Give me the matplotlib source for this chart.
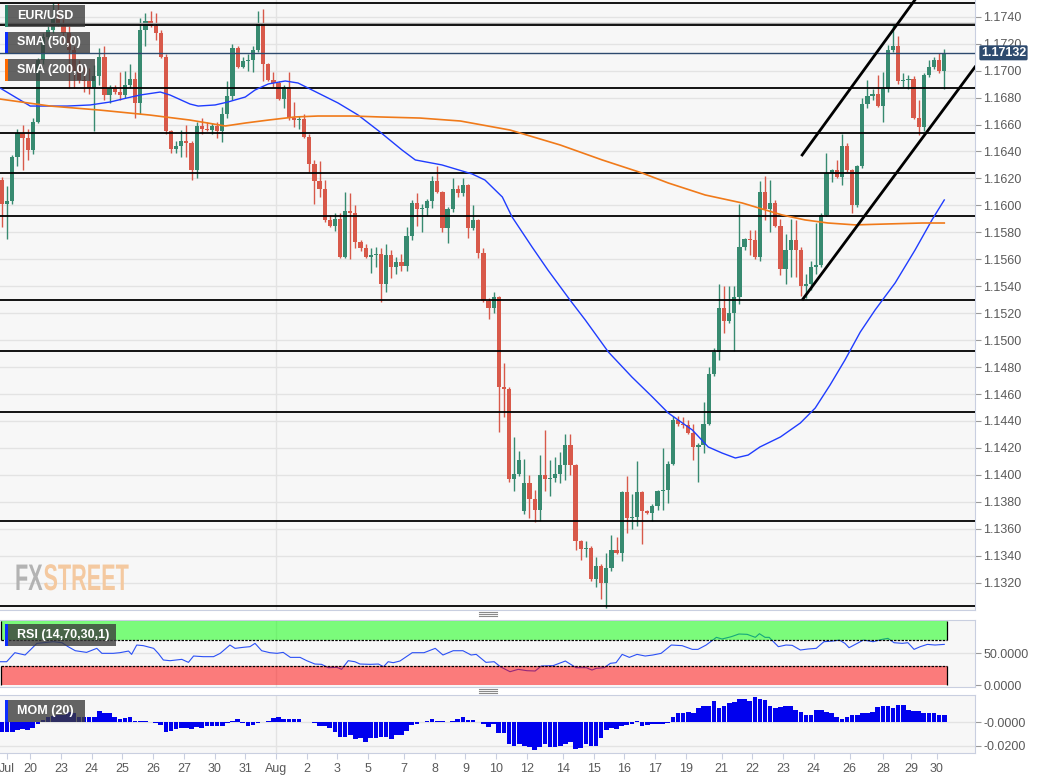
import matplotlib
matplotlib.use("Agg")
import matplotlib.pyplot as plt
import matplotlib.transforms as mtransforms
from matplotlib.patches import Rectangle, PathPatch
from matplotlib.lines import Line2D
from matplotlib.textpath import TextPath
from matplotlib.font_manager import FontProperties
from matplotlib.ticker import FormatStrFormatter
import numpy as np

plt.rcParams['font.family'] = ['Liberation Sans', 'DejaVu Sans']

# EUR/USD 4h candles
opens = [1.1619, 1.1601, 1.1603, 1.1636, 1.1654, 1.1650, 1.1641, 1.1662, 1.1708, 1.1725,
         1.1730, 1.1738, 1.1734, 1.1728, 1.1715, 1.1700, 1.1693, 1.1692, 1.1687, 1.1696,
         1.1710, 1.1682, 1.1687, 1.1684, 1.1682, 1.1689, 1.1694, 1.1676, 1.1730, 1.1737,
         1.1733, 1.1728, 1.1710, 1.1655, 1.1642, 1.1644, 1.1648, 1.1646, 1.1626, 1.1659,
         1.1657, 1.1656, 1.1659, 1.1655, 1.1668, 1.1681, 1.1717, 1.1703, 1.1707, 1.1708,
         1.1715, 1.1735, 1.1705, 1.1693, 1.1691, 1.1679, 1.1688, 1.1665, 1.1663, 1.1664,
         1.1651, 1.1631, 1.1618, 1.1612, 1.1589, 1.1585, 1.1590, 1.1562, 1.1596, 1.1594,
         1.1573, 1.1568, 1.1562, 1.1563, 1.1564, 1.1542, 1.1563, 1.1554, 1.1558, 1.1555,
         1.1577, 1.1602, 1.1597, 1.1598, 1.1603, 1.1618, 1.1610, 1.1583, 1.1597, 1.1612,
         1.1609, 1.1615, 1.1583, 1.1589, 1.1565, 1.1529, 1.1524, 1.1532, 1.1465, 1.1464,
         1.1397, 1.1401, 1.1373, 1.1394, 1.1382, 1.1374, 1.1400, 1.1397, 1.1398, 1.1401,
         1.1407, 1.1422, 1.1407, 1.1351, 1.1345, 1.1346, 1.1323, 1.1332, 1.1320, 1.1331,
         1.1344, 1.1342, 1.1387, 1.1368, 1.1369, 1.1387, 1.1373, 1.1372, 1.1377, 1.1388,
         1.1389, 1.1408, 1.1441, 1.1438, 1.1437, 1.1431, 1.1421, 1.1422, 1.1438, 1.1475,
         1.1491, 1.1524, 1.1514, 1.1520, 1.1532, 1.1569, 1.1575, 1.1574, 1.1562, 1.1610,
         1.1597, 1.1602, 1.1585, 1.1553, 1.1567, 1.1574, 1.1567, 1.1540, 1.1542, 1.1554,
         1.1556, 1.1593, 1.1624, 1.1626, 1.1621, 1.1644, 1.1626, 1.1600, 1.1629, 1.1675,
         1.1681, 1.1683, 1.1674, 1.1686, 1.1715, 1.1718, 1.1692, 1.1693, 1.1694, 1.1665,
         1.1658, 1.1697, 1.1703, 1.1708, 1.1700]
highs = [1.1621, 1.1614, 1.1637, 1.1657, 1.1660, 1.1657, 1.1665, 1.1709, 1.1728, 1.1733,
         1.1750, 1.1750, 1.1738, 1.1733, 1.1718, 1.1708, 1.1703, 1.1702, 1.1704, 1.1717,
         1.1718, 1.1689, 1.1689, 1.1699, 1.1700, 1.1705, 1.1699, 1.1739, 1.1743, 1.1744,
         1.1743, 1.1730, 1.1712, 1.1656, 1.1648, 1.1656, 1.1660, 1.1648, 1.1662, 1.1665,
         1.1662, 1.1661, 1.1662, 1.1673, 1.1692, 1.1720, 1.1718, 1.1710, 1.1712, 1.1718,
         1.1744, 1.1746, 1.1706, 1.1699, 1.1692, 1.1689, 1.1699, 1.1677, 1.1666, 1.1668,
         1.1653, 1.1634, 1.1633, 1.1619, 1.1593, 1.1594, 1.1594, 1.1610, 1.1609, 1.1600,
         1.1574, 1.1571, 1.1568, 1.1569, 1.1568, 1.1571, 1.1567, 1.1562, 1.1564, 1.1584,
         1.1604, 1.1609, 1.1601, 1.1605, 1.1622, 1.1629, 1.1611, 1.1599, 1.1620, 1.1615,
         1.1620, 1.1616, 1.1600, 1.1590, 1.1568, 1.1531, 1.1536, 1.1533, 1.1483, 1.1465,
         1.1428, 1.1418, 1.1412, 1.1400, 1.1389, 1.1415, 1.1433, 1.1411, 1.1413, 1.1417,
         1.1430, 1.1430, 1.1408, 1.1352, 1.1351, 1.1347, 1.1339, 1.1334, 1.1342, 1.1355,
         1.1354, 1.1388, 1.1399, 1.1386, 1.1410, 1.1388, 1.1374, 1.1378, 1.1389, 1.1420,
         1.1410, 1.1444, 1.1444, 1.1443, 1.1441, 1.1438, 1.1424, 1.1454, 1.1480, 1.1494,
         1.1542, 1.1540, 1.1540, 1.1540, 1.1601, 1.1576, 1.1582, 1.1582, 1.1618, 1.1622,
         1.1619, 1.1604, 1.1590, 1.1579, 1.1590, 1.1589, 1.1569, 1.1549, 1.1559, 1.1587,
         1.1594, 1.1639, 1.1627, 1.1634, 1.1653, 1.1646, 1.1627, 1.1630, 1.1680, 1.1693,
         1.1686, 1.1697, 1.1699, 1.1719, 1.1734, 1.1726, 1.1698, 1.1697, 1.1696, 1.1678,
         1.1698, 1.1708, 1.1710, 1.1713, 1.1716]
lows = [1.1584, 1.1575, 1.1601, 1.1629, 1.1626, 1.1634, 1.1638, 1.1661, 1.1705, 1.1723,
        1.1728, 1.1733, 1.1720, 1.1687, 1.1687, 1.1691, 1.1684, 1.1683, 1.1655, 1.1689,
        1.1678, 1.1676, 1.1683, 1.1678, 1.1680, 1.1687, 1.1665, 1.1668, 1.1718, 1.1732,
        1.1723, 1.1709, 1.1653, 1.1639, 1.1639, 1.1636, 1.1636, 1.1619, 1.1620, 1.1653,
        1.1655, 1.1653, 1.1650, 1.1647, 1.1665, 1.1678, 1.1702, 1.1702, 1.1700, 1.1699,
        1.1714, 1.1692, 1.1692, 1.1688, 1.1678, 1.1672, 1.1663, 1.1658, 1.1657, 1.1650,
        1.1625, 1.1601, 1.1606, 1.1588, 1.1584, 1.1581, 1.1561, 1.1561, 1.1560, 1.1568,
        1.1566, 1.1561, 1.1550, 1.1554, 1.1528, 1.1536, 1.1546, 1.1549, 1.1551, 1.1551,
        1.1574, 1.1585, 1.1580, 1.1592, 1.1598, 1.1609, 1.1580, 1.1572, 1.1595, 1.1606,
        1.1607, 1.1576, 1.1582, 1.1561, 1.1528, 1.1516, 1.1520, 1.1432, 1.1443, 1.1395,
        1.1388, 1.1399, 1.1371, 1.1368, 1.1365, 1.1366, 1.1388, 1.1384, 1.1395, 1.1394,
        1.1396, 1.1400, 1.1344, 1.1337, 1.1339, 1.1321, 1.1317, 1.1308, 1.1301, 1.1329,
        1.1341, 1.1336, 1.1357, 1.1360, 1.1362, 1.1349, 1.1371, 1.1366, 1.1374, 1.1374,
        1.1379, 1.1407, 1.1436, 1.1435, 1.1430, 1.1411, 1.1395, 1.1416, 1.1437, 1.1473,
        1.1485, 1.1505, 1.1513, 1.1492, 1.1527, 1.1567, 1.1563, 1.1560, 1.1559, 1.1589,
        1.1580, 1.1584, 1.1548, 1.1542, 1.1547, 1.1547, 1.1533, 1.1531, 1.1537, 1.1549,
        1.1554, 1.1592, 1.1617, 1.1620, 1.1615, 1.1625, 1.1594, 1.1599, 1.1628, 1.1672,
        1.1678, 1.1673, 1.1662, 1.1684, 1.1714, 1.1690, 1.1688, 1.1686, 1.1664, 1.1652,
        1.1655, 1.1695, 1.1701, 1.1698, 1.1686]
closes = [1.1601, 1.1603, 1.1636, 1.1654, 1.1650, 1.1641, 1.1662, 1.1708, 1.1725, 1.1730,
          1.1738, 1.1734, 1.1728, 1.1715, 1.1700, 1.1693, 1.1692, 1.1687, 1.1696, 1.1710,
          1.1682, 1.1687, 1.1684, 1.1682, 1.1689, 1.1694, 1.1676, 1.1730, 1.1737, 1.1733,
          1.1728, 1.1710, 1.1655, 1.1642, 1.1644, 1.1648, 1.1646, 1.1626, 1.1659, 1.1657,
          1.1656, 1.1659, 1.1655, 1.1668, 1.1681, 1.1717, 1.1703, 1.1707, 1.1708, 1.1715,
          1.1735, 1.1705, 1.1693, 1.1691, 1.1679, 1.1688, 1.1665, 1.1663, 1.1664, 1.1651,
          1.1631, 1.1618, 1.1612, 1.1589, 1.1585, 1.1590, 1.1562, 1.1596, 1.1594, 1.1573,
          1.1568, 1.1562, 1.1563, 1.1564, 1.1542, 1.1563, 1.1554, 1.1558, 1.1555, 1.1577,
          1.1602, 1.1597, 1.1598, 1.1603, 1.1618, 1.1610, 1.1583, 1.1597, 1.1612, 1.1609,
          1.1615, 1.1583, 1.1589, 1.1565, 1.1529, 1.1524, 1.1532, 1.1465, 1.1464, 1.1397,
          1.1401, 1.1411, 1.1394, 1.1382, 1.1374, 1.1400, 1.1397, 1.1398, 1.1401, 1.1407,
          1.1422, 1.1407, 1.1351, 1.1345, 1.1346, 1.1323, 1.1332, 1.1320, 1.1331, 1.1344,
          1.1342, 1.1387, 1.1368, 1.1369, 1.1387, 1.1373, 1.1372, 1.1377, 1.1388, 1.1389,
          1.1408, 1.1441, 1.1438, 1.1437, 1.1431, 1.1421, 1.1422, 1.1438, 1.1475, 1.1491,
          1.1524, 1.1514, 1.1520, 1.1532, 1.1569, 1.1575, 1.1574, 1.1562, 1.1610, 1.1597,
          1.1602, 1.1585, 1.1553, 1.1567, 1.1574, 1.1567, 1.1540, 1.1542, 1.1554, 1.1556,
          1.1593, 1.1624, 1.1626, 1.1621, 1.1644, 1.1626, 1.1600, 1.1629, 1.1675, 1.1681,
          1.1683, 1.1674, 1.1686, 1.1715, 1.1718, 1.1692, 1.1693, 1.1694, 1.1665, 1.1658,
          1.1697, 1.1703, 1.1708, 1.1700, 1.1713]
last_price = 1.17132

# moving averages, sampled along the curves (x = candle number)
sma50_bar = [-0.4, 5.5, 12.7, 17.2, 21.1, 24.4, 27.0, 30.9, 32.8, 36.7, 38.3, 41.6, 44.1, 47.5,
             49.4, 52.0, 55.3, 57.8, 61.7, 65.6, 69.5, 73.8, 78.1, 80.7, 85.9, 91.8, 94.3, 97.7,
             99.6, 103.5, 106.6, 110.9, 113.9, 118.4, 123.0, 127.0, 130.1, 134.8, 137.9, 140.6,
             143.2, 145.7, 148.0, 152.0, 155.9, 158.8, 161.7, 164.6, 167.6, 170.5, 174.4, 178.3,
             181.6, 184.0]
sma50_val = [1.16871, 1.16737, 1.16737, 1.16745, 1.16767, 1.16797, 1.16819, 1.16841, 1.16819,
             1.16752, 1.16737, 1.16745, 1.16767, 1.16804, 1.16856, 1.16901, 1.16923, 1.16908,
             1.16834, 1.16760, 1.16671, 1.16545, 1.16411, 1.16337, 1.16300, 1.16233, 1.16188,
             1.16062, 1.15914, 1.15691, 1.15520, 1.15298, 1.15149, 1.14912, 1.14726, 1.14578,
             1.14459, 1.14333, 1.14207, 1.14162, 1.14125, 1.14147, 1.14207, 1.14281, 1.14385,
             1.14496, 1.14667, 1.14852, 1.15060, 1.15224, 1.15424, 1.15669, 1.15892, 1.16040]
sma200_bar = [-0.4, 9.4, 19.1, 28.9, 36.7, 43.6, 47.5, 52.0, 57.2, 61.7, 68.4, 73.8, 81.6, 89.5,
              99.2, 109.0, 117.2, 125.0, 130.1, 137.3, 144.5, 152.3, 156.8, 161.3, 166.6, 173.0,
              179.7, 184.0]
sma200_val = [1.16789, 1.16737, 1.16707, 1.16670, 1.16633, 1.16589, 1.16611, 1.16633, 1.16656,
              1.16663, 1.16663, 1.16656, 1.16648, 1.16626, 1.16559, 1.16448, 1.16337, 1.16240,
              1.16166, 1.16077, 1.16018, 1.15929, 1.15892, 1.15869, 1.15855, 1.15862, 1.15869,
              1.15869]

# RSI (14) sampled along the line
rsi_bar = [-0.4, 0.9, 2.5, 4.5, 5.5, 6.8, 8.1, 10.0, 11.7, 12.9, 14.3, 16.5, 18.5, 19.5, 21.7,
           23.0, 24.7, 25.3, 26.3, 27.6, 29.6, 30.5, 31.5, 32.8, 35.1, 36.4, 37.4, 39.3, 41.3,
           42.6, 44.5, 45.5, 47.1, 48.4, 49.4, 50.7, 52.3, 53.7, 54.9, 56.3, 58.2, 59.5, 61.1,
           62.4, 63.7, 65.4, 66.3, 67.6, 68.9, 69.9, 71.9, 73.5, 74.5, 75.4, 76.4, 77.7,
           80.1, 82.4, 84.6, 86.1, 88.1, 90.0, 91.6, 92.6, 94.5, 96.1, 97.3, 99.2, 100.8, 102.5,
           104.1, 105.3, 107.6, 110.0, 112.1, 114.1, 115.2, 116.0, 117.6, 118.8, 119.9, 121.1,
           122.5, 124.0, 125.6, 127.1, 128.7, 130.7, 132.8, 134.8, 135.9, 137.5, 139.5, 140.6,
           142.4, 143.9, 145.5, 147.1, 147.9, 149.0, 149.8, 151.6, 153.1, 154.3, 155.9, 157.4,
           159.0, 160.5, 162.3, 163.5, 164.6, 165.4, 167.0, 168.2, 170.1, 171.9, 173.0, 174.2,
           175.8, 176.9, 178.1, 179.3, 180.7, 182.2, 184.0]
rsi_val = [36.4, 36.4, 50.5, 46.9, 54.7, 65.1, 66.1, 67.7, 66.1, 59.9, 53.6, 51.0, 57.3, 49.5,
           49.5, 50.5, 53.1, 47.9, 62.5, 61.5, 57.3, 49.5, 39.1, 38.0, 40.1, 35.4, 45.3, 44.3,
           44.3, 49.5, 62.5, 57.3, 58.9, 59.9, 65.1, 53.6, 50.5, 49.5, 51.0, 43.2, 43.2, 38.0,
           32.8, 32.3, 27.1, 27.6, 24.5, 38.0, 36.4, 32.8, 32.3, 32.8, 28.6, 36.4, 34.9, 37.5,
           50.5, 50.5, 57.3, 46.9, 53.6, 53.6, 46.9, 47.9, 35.4, 36.4, 28.6, 20.8, 24.5, 22.4,
           21.9, 29.7, 30.2, 37.5, 27.1, 27.1, 23.4, 26.0, 27.1, 33.9, 34.9, 47.9, 43.2, 47.9,
           45.3, 46.9, 49.5, 62.5, 61.5, 55.7, 55.7, 62.5, 74.5, 71.9, 75.5, 79.7, 79.2, 74.5,
           80.2, 74.5, 74.5, 59.9, 62.5, 62.0, 54.7, 56.3, 57.3, 67.7, 68.8, 70.3, 65.1, 58.3,
           65.1, 70.3, 67.7, 71.4, 72.9, 66.1, 65.1, 66.1, 55.7, 59.9, 63.5, 62.5, 63.5]

# MOM (20), one bar per candle
mom = [-0.0079, -0.0085, -0.0079, -0.0065, -0.0059, -0.0065, -0.0044, -0.0013, 0.0022, 0.0050,
       0.0059, 0.0065, 0.0065, 0.0088, 0.0079, 0.0050, 0.0044, 0.0044, 0.0044, 0.0102,
       0.0079, 0.0079, 0.0044, 0.0030, 0.0036, 0.0050, 0.0016, 0.0016, 0.0010, 0.0004,
       -0.0001, -0.0022, -0.0079, -0.0073, -0.0059, -0.0050, -0.0050, -0.0059, -0.0042, -0.0050,
       -0.0027, -0.0027, -0.0027, -0.0030, -0.0007, 0.0016, 0.0027, -0.0001, -0.0027, -0.0022,
       -0.0007, 0.0004, 0.0016, 0.0042, 0.0044, 0.0033, 0.0033, 0.0033, 0.0033, 0.0001,
       0.0000, -0.0007, -0.0030, -0.0030, -0.0050, -0.0079, -0.0128, -0.0128, -0.0108, -0.0145,
       -0.0136, -0.0165, -0.0131, -0.0131, -0.0128, -0.0122, -0.0145, -0.0108,
       -0.0108, -0.0070, -0.0022, -0.0013, 0.0000, 0.0016, 0.0030, 0.0016, 0.0016, 0.0000,
       0.0016, 0.0033, 0.0044, 0.0022, 0.0022, 0.0000, -0.0013, -0.0036, -0.0013, -0.0093,
       -0.0093, -0.0185, -0.0199, -0.0188, -0.0199, -0.0214, -0.0237, -0.0208, -0.0185, -0.0208,
       -0.0208, -0.0199, -0.0185, -0.0165, -0.0231, -0.0222, -0.0185, -0.0199, -0.0199, -0.0136,
       -0.0065, -0.0050, -0.0059, -0.0027, -0.0022, -0.0013, 0.0010, -0.0027, -0.0022, -0.0013,
       -0.0013, -0.0013, -0.0007, 0.0044, 0.0085, 0.0085, 0.0093, 0.0085, 0.0122, 0.0142,
       0.0142, 0.0188, 0.0122, 0.0142, 0.0165, 0.0179, 0.0202, 0.0202, 0.0188, 0.0217,
       0.0202, 0.0194, 0.0142, 0.0122, 0.0136, 0.0142, 0.0142, 0.0108, 0.0088, 0.0065,
       0.0065, 0.0108, 0.0108, 0.0088, 0.0079, 0.0050, 0.0027, 0.0044, 0.0065, 0.0065,
       0.0085, 0.0085, 0.0093, 0.0136, 0.0142, 0.0142, 0.0122, 0.0151, 0.0151, 0.0108,
       0.0102, 0.0102, 0.0079, 0.0079, 0.0079, 0.0065, 0.0065]

# drawn support / resistance levels and the rising channel
levels = [1.1750, 1.1734, 1.1687, 1.1654, 1.1624, 1.1592, 1.1530, 1.1492, 1.1447, 1.1366, 1.1303]
channel_top = ([156.25, 182.0], [1.16374, 1.17720])
channel_bot = ([156.4, 190.0], [1.15305, 1.17027])

tick_bars = [1, 5.5, 11.5, 17.5, 23.5, 29.5, 35.5, 41.5, 47.5, 53.5, 59.5, 65.5, 71.5, 78.5,
             84.5, 90.5, 96.5, 102.5, 109.5, 115.5, 121.5, 127.5, 133.5, 140.5, 146.5, 152.5,
             158.5, 165.5, 172.0, 177.5, 182.5]
tick_labels = ['Jul', '20', '23', '24', '25', '26', '27', '30', '31', 'Aug', '2', '3', '5', '7',
               '8', '9', '10', '12', '14', '15', '16', '17', '19', '21', '22', '23', '24', '26',
               '28', '29', '30']

GREEN = '#378a70'
RED = '#d8594a'
BG = '#f7f7f7'
GRID = '#e3e3e3'
EDGE = '#c9cfe0'
LABEL = '#5a5a5a'

W, H = 1046, 778
fig = plt.figure(figsize=(W / 100, H / 100), dpi=100)


def panel(top, bottom):
    return fig.add_axes([0, 1 - bottom / H, 975 / W, (bottom - top) / H])


ax = panel(0, 610)
ax_rsi = panel(620, 687)
ax_mom = panel(695, 753)

n = len(closes)
xs = np.arange(n)
aug = tick_bars[tick_labels.index('Aug')]
for a in (ax, ax_rsi, ax_mom):
    a.set_facecolor(BG)
    a.set_xlim(-0.4, 190)
    a.spines['left'].set_visible(False)
    for s in ('top', 'right', 'bottom'):
        a.spines[s].set_color(EDGE)
    a.yaxis.tick_right()
    a.tick_params(axis='y', colors='#9a9a9a', labelcolor=LABEL, labelsize=9, length=4, pad=2)
    a.axvline(aug, color=GRID, lw=1, zorder=0)
ax.spines['top'].set_visible(False)
for a in (ax, ax_rsi):
    a.tick_params(axis='x', bottom=False, labelbottom=False)

# price panel
ax.set_ylim(1.12997, 1.17524)
price_ticks = np.round(np.arange(1.1320, 1.17401, 0.002), 4)
ax.set_yticks(price_ticks)
ax.yaxis.set_major_formatter(FormatStrFormatter('%.4f'))
for p in price_ticks:
    ax.axhline(p, color=GRID, lw=1, zorder=0)

cols = [GREEN if c >= o else RED for o, c in zip(opens, closes)]
ax.vlines(xs, lows, highs, colors=cols, lw=1, zorder=3)
body = [max(abs(c - o), 0.00008) for o, c in zip(opens, closes)]
bottoms = [min(o, c) for o, c in zip(opens, closes)]
ax.bar(xs, body, 0.82, bottom=bottoms, color=cols, zorder=4)

ax.axhline(1.17355, color='#a0a0a0', lw=1, zorder=5)
for lv in levels:
    ax.axhline(lv, color='black', lw=1.3, zorder=5)
ax.axhline(last_price, color='#2d4a6e', lw=1, zorder=5)

ax.plot(sma50_bar, sma50_val, color='#1f3cff', lw=1, zorder=6)
ax.plot(sma200_bar, sma200_val, color='#f07a1a', lw=1.2, zorder=6)
ax.plot(*channel_top, color='black', lw=2, zorder=7)
ax.plot(*channel_bot, color='black', lw=2, zorder=7)

trans = mtransforms.blended_transform_factory(ax.transAxes, ax.transData)
ax.text(1.006, last_price, f'{last_price:.5f}', transform=trans, ha='left', va='center',
        color='white', fontsize=9, fontweight='bold', clip_on=False, zorder=10,
        bbox=dict(boxstyle='round,pad=0.12', fc='#2d4a6e', ec='none'))

# RSI panel
ax_rsi.set_ylim(-3.1, 101.6)
ax_rsi.set_yticks([0, 50])
ax_rsi.set_yticklabels(['0.0000', '50.0000'])
ax_rsi.axhline(50, color=GRID, lw=1, zorder=0)
ax_rsi.plot(rsi_bar, rsi_val, color='#2b50f5', lw=0.8, zorder=3)
band_x = [-0.3, n - 0.4]
ax_rsi.fill_between(band_x, 70, 100, color='#00ff00', alpha=0.5, lw=0, zorder=4)
ax_rsi.fill_between(band_x, 0, 30, color='#ff0000', alpha=0.5, lw=0, zorder=4)
ax_rsi.hlines([70, 30], band_x[0], band_x[1], colors='black', linestyles=(0, (2, 1)), lw=0.9, zorder=5)
ax_rsi.vlines(band_x, 70, 100, colors='black', lw=0.9, zorder=5)
ax_rsi.vlines(band_x, 0, 30, colors='black', lw=0.9, zorder=5)

# MOM panel
ax_mom.set_ylim(-0.0263, 0.0237)
ax_mom.set_yticks([0, -0.02])
ax_mom.set_yticklabels(['-0.0000', '-0.0200'])
ax_mom.axhline(0, color=GRID, lw=1, zorder=0)
ax_mom.axhline(-0.02, color=GRID, lw=1, zorder=0)
ax_mom.bar(np.arange(len(mom)), mom, 0.9, color='#0000ee', zorder=3)
ax_mom.set_xticks(tick_bars)
ax_mom.set_xticklabels(tick_labels)
ax_mom.tick_params(axis='x', colors=EDGE, labelcolor=LABEL, labelsize=9, length=4, pad=3)


def tag(x0, y0, x1, y1, text, stripe):
    fig.add_artist(Rectangle((x0 / W, 1 - y1 / H), (x1 - x0) / W, (y1 - y0) / H,
                             transform=fig.transFigure, fc='#3a3a3a', alpha=0.78, ec='none', zorder=20))
    fig.add_artist(Rectangle((x0 / W, 1 - y1 / H), 3 / W, (y1 - y0) / H,
                             transform=fig.transFigure, fc=stripe, ec='none', zorder=21))
    fig.text((x0 + 12) / W, 1 - (y0 + y1) / 2 / H, text, color='white', fontsize=9,
             fontweight='bold', va='center', ha='left', zorder=22)


tag(5, 5, 85, 27, 'EUR/USD', '#2d8a6e')
tag(5, 32, 90, 53, 'SMA (50,0)', '#0a2cff')
tag(5, 59, 95, 81, 'SMA (200,0)', '#ff6a00')
tag(5, 624, 116, 646, 'RSI (14,70,30,1)', '#0a2cff')
tag(5, 700, 85, 722, 'MOM (20)', '#0a2cff')

# panel resize handles
for y in (612, 614, 616, 689, 691, 693):
    fig.add_artist(Line2D([479 / W, 497 / W], [1 - y / H] * 2, color='#8a8a8a', lw=0.8))

# watermark, condensed logo lettering drawn in figure pixels
logo_font = FontProperties(family='Liberation Sans', weight='bold')
x_px = 15
for word, colour in (('FX', '#b3b3b3'), ('STREET', '#f4c9a0')):
    tp = TextPath((0, 0), word, size=37, prop=logo_font)
    tf = mtransforms.Affine2D().scale(0.585, 1.0).translate(x_px, H - 590)
    fig.add_artist(PathPatch(tp, transform=tf, fc=colour, ec='none', zorder=2))
    x_px += tp.get_extents().x1 * 0.585 + 1

fig.savefig('out.png', dpi=100, facecolor='white')
